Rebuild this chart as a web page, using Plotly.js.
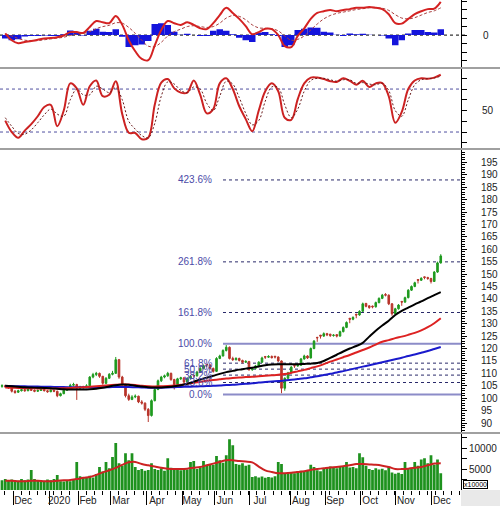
<!DOCTYPE html>
<html><head><meta charset="utf-8">
<script src="https://cdn.plot.ly/plotly-3.0.1.min.js"></script>
<style>html,body{margin:0;padding:0;background:#fff}#chart{width:500px;height:506px}</style>
</head><body><div id="chart"></div>
<script>
// ---- price candles (each bar = 2 sessions) ----
const opens = [104.8,105.0,104.6,104.2,102.8,102.4,103.0,103.4,103.0,103.6,
 103.2,102.8,103.1,103.5,103.0,102.6,103.2,102.8,101.0,101.8,
 103.2,104.3,105.2,105.5,104.0,104.6,104.3,105.0,108.5,109.5,
 110.0,108.8,106.0,108.0,109.6,110.0,115.5,108.5,105.5,101.0,
 99.5,100.5,100.8,98.5,98.0,95.5,93.0,99.0,103.5,107.0,
 108.5,109.0,110.0,107.5,105.5,107.8,108.2,106.5,108.0,109.2,
 109.0,110.5,112.0,113.6,113.4,112.0,110.8,116.0,117.0,119.2,
 120.5,116.0,115.5,116.0,115.2,114.5,114.8,111.5,112.0,113.0,
 114.5,116.8,116.5,116.8,116.9,116.6,115.0,104.0,108.0,110.2,
 113.2,113.0,113.3,115.8,117.0,116.2,120.0,124.5,125.4,125.0,
 126.0,125.8,125.2,125.6,125.0,126.8,128.5,132.2,131.8,133.8,
 133.5,135.0,138.2,137.2,137.1,136.8,138.5,140.2,141.8,141.5,
 138.0,134.0,136.0,139.0,138.7,140.5,143.5,145.0,147.8,147.5,
 148.9,148.6,148.2,147.0,150.8,154.5];
const highs = [105.6,105.4,104.9,104.4,103.3,103.4,103.8,103.7,104.0,103.9,
 103.5,103.5,103.9,103.7,103.3,103.6,103.4,103.0,102.2,103.6,
 104.7,105.8,106.2,105.8,105.0,105.0,105.6,108.9,110.2,110.6,
 110.3,109.0,108.5,110.1,111.0,116.6,115.8,109.0,105.8,101.8,
 101.2,101.5,101.0,99.2,98.3,96.0,99.5,104.0,107.5,109.0,
 109.5,110.6,110.3,107.8,108.2,108.6,108.4,108.4,109.3,109.5,
 111.0,112.5,113.5,113.8,113.6,112.3,116.5,117.5,119.7,121.4,
 120.8,116.7,116.5,116.3,115.5,115.3,115.0,112.4,113.4,114.9,
 116.7,117.0,117.3,117.2,117.0,116.8,115.2,108.4,110.6,112.9,
 113.5,113.8,116.2,117.5,117.3,120.4,123.4,124.7,125.4,126.5,
 126.3,125.9,125.8,125.6,127.2,128.9,130.9,132.2,133.0,134.0,
 135.4,138.5,138.3,137.4,137.3,138.9,140.6,142.0,142.3,141.8,
 138.3,136.4,137.9,139.1,140.9,143.9,145.4,146.9,147.9,148.7,
 149.0,148.9,148.5,151.2,155.0,158.0];
const lows = [104.2,104.3,103.8,102.3,101.8,102.1,102.7,102.6,102.8,102.9,
 102.4,102.5,102.9,102.7,102.2,102.4,102.4,100.4,100.7,101.6,
 103.0,104.0,104.8,99.3,103.6,103.8,104.0,104.8,108.0,108.9,
 108.2,105.4,105.6,107.7,109.2,109.8,107.8,105.0,100.3,98.9,
 99.2,100.0,98.0,97.4,94.8,90.4,92.6,98.7,103.2,106.5,
 108.0,108.6,107.0,103.5,105.2,107.3,106.0,106.2,107.6,108.3,
 108.7,110.2,111.6,112.5,111.5,110.3,110.6,115.7,116.8,118.8,
 115.6,115.0,115.2,114.8,114.0,114.2,111.0,111.0,111.7,112.8,
 114.2,115.8,116.2,116.0,116.0,114.6,102.0,103.0,107.7,110.0,
 112.2,112.6,113.0,115.5,115.8,116.0,119.7,122.7,124.0,124.7,
 125.0,124.7,124.8,124.5,124.8,126.5,128.2,130.2,131.4,132.2,
 133.2,134.8,136.6,136.0,136.2,136.5,138.2,139.9,141.0,137.5,
 133.2,133.6,135.7,137.2,138.4,140.2,143.2,144.7,146.2,147.2,
 147.9,147.7,146.2,146.8,150.5,154.2];
const closes = [105.0,104.6,104.2,102.8,102.3,103.0,103.4,103.0,103.6,103.2,
 102.8,103.1,103.5,103.0,102.6,103.2,102.8,101.0,101.8,103.2,
 104.3,105.2,105.5,104.0,104.6,104.3,105.0,108.5,109.5,110.0,
 108.8,106.0,108.0,109.6,110.0,115.5,108.5,105.5,101.0,99.5,
 100.5,100.8,98.5,98.0,95.5,93.0,99.0,103.5,107.0,108.5,
 109.0,110.0,107.5,105.5,107.8,108.2,106.5,108.0,108.8,109.0,
 110.5,112.0,113.0,113.4,112.0,110.8,116.0,117.0,119.2,120.5,
 116.0,115.5,116.0,115.2,114.5,114.8,111.5,112.0,113.0,114.5,
 116.2,116.5,116.8,116.3,116.6,115.0,104.0,108.0,110.2,112.5,
 113.0,113.3,115.8,117.0,116.2,120.0,123.0,124.3,125.0,126.0,
 125.5,125.2,125.4,125.0,126.8,128.5,130.5,131.8,132.5,133.5,
 135.0,138.0,137.0,136.5,136.8,138.5,140.2,141.5,141.5,138.0,
 134.0,136.0,137.5,138.7,140.5,143.5,145.0,146.5,147.5,148.3,
 148.6,148.2,147.0,150.8,154.5,157.3];
const volumes = [2300,2600,2200,2500,2400,2200,2600,2300,2500,4800,
 2600,2300,2400,2200,2500,2300,2600,3600,2100,2000,
 2200,2100,2400,6700,3300,3000,3100,3400,3000,3800,
 5500,4400,6700,5200,7900,11200,6400,5800,8800,7100,
 8800,5500,4800,5000,4600,4800,6400,5000,4800,5200,
 4600,7600,5300,4900,5000,4700,5200,4900,6700,6900,
 5000,5300,6900,5800,6200,6000,8100,7100,6500,8300,
 12100,10700,6200,6000,6400,5800,6000,3100,3300,3000,
 3200,2900,3100,3000,3300,6700,6200,4000,3800,4100,
 4000,4500,4600,4300,4800,6000,5500,4700,4500,5000,
 5400,5600,5500,5200,5700,5500,6700,5400,5500,5200,
 8800,7800,5800,5000,4800,5200,4900,5100,4700,5500,
 4200,3900,4100,3800,6700,5200,5000,6700,5800,7300,
 7600,6400,8300,6000,7300,4000];

// ---- indicators (one point every 2 bars) ----
const macd = [0.2,-0.6,-0.95,-0.8,-0.7,-0.55,-0.4,-0.35,-0.25,-0.05,
 0.35,0.35,0.25,0.95,1.65,1.5,1.4,2.25,1.2,-0.6,
 -1.9,-2.8,-2.95,-1.2,0.6,1.65,1.4,1.2,1.5,1.2,
 0.8,0.7,1.4,2.35,3.2,2.6,1.9,1.05,0.1,0.35,
 0.75,0.7,0.0,-1.3,-1.4,-0.1,0.8,1.9,2.6,2.8,
 2.95,2.8,2.95,3.05,3.2,3.2,3.3,3.2,3.05,2.45,
 1.4,1.35,1.9,2.45,2.8,3.05,3.1,3.9];
const macdSignal = [0.1,-0.1,-0.4,-0.6,-0.65,-0.65,-0.55,-0.45,-0.35,-0.25,
 -0.05,0.1,0.2,0.4,0.75,1.0,1.15,1.45,1.4,0.9,
 0.2,-0.6,-1.3,-1.35,-0.85,-0.1,0.4,0.7,1.0,1.1,
 1.0,0.9,1.0,1.4,2.0,2.3,2.2,1.8,1.2,0.85,
 0.8,0.75,0.5,-0.1,-0.6,-0.5,-0.1,0.6,1.3,1.9,
 2.3,2.55,2.7,2.85,3.0,3.1,3.2,3.2,3.15,2.9,
 2.4,2.0,1.9,2.05,2.35,2.65,2.85,3.2];
const macdHist = [-0.4,-0.6,-0.5,-0.15,-0.1,-0.1,-0.05,-0.1,-0.1,0.1,
 0.55,0.3,-0.05,0.5,0.75,0.4,0.35,0.7,-0.2,-1.4,
 -1.2,-1.1,-0.7,1.3,1.4,1.2,0.4,0.05,0.15,0.0,
 -0.1,-0.1,0.5,0.7,0.5,0.1,-0.3,-0.6,-0.8,0.3,
 0.35,0.1,-0.1,-1.4,-1.2,0.6,0.75,0.9,0.85,0.4,
 0.3,0.05,-0.1,0.2,0.1,0.15,0.05,0.0,-0.05,-0.4,
 -1.2,-0.6,0.2,0.6,0.6,0.35,0.3,0.7];
const stochK = [36,20,12,22,31,42,55,58,28,50,
 88,81,58,84,92,70,72,91,45,19,
 18.6,10,12,58,89,94,81,75,75,92,
 72,46,52,88,95,80,56,38,21,50,
 77,88,77,40,37,66,88,96,96,94,
 91,90,95,91.6,86,91.6,83,88,88.4,70,
 33,48,80,92,95,94.5,96,100];
const stochD = [40,28,18,17,23,33,44,52,45,42,
 65,80,72,72,84,80,75,82,65,35,
 24,15,12,32,70,90,87,78,75,83,
 80,60,50,70,91,87,68,46,30,36,
 63,83,82,58,40,52,77,92,95,95,
 93,91,93,93,88,89,87,86,88,78,
 50,42,65,86,93,94.5,95.5,98];
const maBlack = [105.0,104.8,104.6,104.4,104.3,104.2,104.1,104.0,103.8,103.6,
 103.5,103.5,103.5,103.6,103.8,104.2,104.7,105.2,105.5,105.4,
 105.0,104.7,104.4,104.3,104.3,104.5,104.8,105.2,105.8,106.6,
 107.5,108.2,109.0,109.8,110.5,111.0,111.5,111.9,112.3,112.8,
 113.3,113.6,113.7,113.7,113.7,113.7,113.8,113.9,114.2,115.0,
 116.2,117.5,118.8,120.0,121.0,122.3,124.8,127.2,129.3,131.2,
 133.5,135.2,136.5,137.8,139.0,140.3,141.5,142.7];
const maRed = [104.3,104.2,104.1,104.0,104.0,103.9,103.9,103.9,103.9,104.0,
 104.1,104.3,104.4,104.6,104.8,105.0,105.2,105.4,105.5,105.5,
 105.3,105.0,104.8,104.7,104.8,104.9,105.1,105.4,105.8,106.2,
 106.6,107.0,107.3,107.6,107.9,108.1,108.3,108.5,108.6,108.8,
 109.0,109.2,109.4,109.7,110.2,110.8,111.4,112.1,112.8,113.7,
 114.7,115.6,116.5,117.4,118.4,119.4,120.4,121.6,122.7,123.4,
 124.2,124.8,125.5,126.3,127.3,128.6,130.2,132.2];
const maBlue = [104.9,104.9,104.8,104.8,104.7,104.7,104.6,104.6,104.5,104.5,
 104.4,104.4,104.4,104.4,104.4,104.4,104.4,104.5,104.5,104.5,
 104.4,104.3,104.2,104.2,104.2,104.3,104.4,104.5,104.6,104.7,
 104.8,104.9,105.0,105.1,105.3,105.4,105.6,105.8,106.0,106.3,
 106.5,106.7,106.9,107.1,107.4,107.7,108.0,108.4,108.8,109.3,
 109.8,110.3,110.9,111.5,112.1,112.7,113.3,113.9,114.5,115.1,
 115.7,116.3,117.0,117.6,118.3,119.0,119.8,120.6];
const volMA = [2200,2200,2100,2100,2200,2200,2100,2100,2200,2300,
 2400,2600,2900,3100,3600,4200,4700,5300,6000,6600,
 6700,6200,5900,5600,5300,5100,5000,5000,5100,5300,
 5500,5900,6300,6700,7100,7100,6900,6800,6600,5600,
 4700,4300,4000,4000,4100,4300,4500,4800,5000,5200,
 5400,5500,5700,5900,6200,6200,6100,6000,5800,5500,
 5000,5000,5100,5300,5500,5900,6300,6400];

// ---- axis labels / fibonacci ----
const monthLabels = ['Dec','2020','Feb','Mar','Apr','May','Jun','Jul','Aug','Sep','Oct','Nov','Dec'];
const monthTickIdx = [3.4,14.5,23.4,33.5,44.6,55.4,65.5,76.3,88.9,99.4,110.2,121.2,132.3];
const priceTicks = [90,95,100,105,110,115,120,125,130,135,140,145,150,155,160,165,170,175,180,185,190,195];
const volTicks = [2500,5000,7500,10000,12500];
const volTickText = ['','5000','','10000',''];
const macdTicks = [-3,-2,-1,0,1,2,3,4];
const macdTickText = ['','','','0','','','',''];
const stochTicks = [5,20,35,50,65,80,95];
const stochTickText = ['','','','50','','',''];
const fibLow = 101.5, fibHigh = 121.9;
const fibRatios = [0, 0.236, 0.382, 0.5, 0.618, 1, 1.618, 2.618, 4.236];
const fibLabels = ['0.0%','23.6%','38.2%','50.0%','61.8%','100.0%','161.8%','261.8%','423.6%'];

const barIdx = closes.map((_, i) => i);
const indIdx = macd.map((_, k) => 1 + 2 * k);
const X0 = -0.615, X1 = 141.23, FIB_START = 68, FIB_LABEL_X = 65.3;

const traces = [
  {type:'bar', x:indIdx, y:macdHist, yaxis:'y', width:2, marker:{color:'#1414dc', line:{width:0}}, hoverinfo:'skip'},
  {type:'scatter', mode:'lines', x:indIdx, y:macdSignal, yaxis:'y', line:{color:'#a84040', width:1, dash:'3px,2px', shape:'spline'}},
  {type:'scatter', mode:'lines', x:indIdx, y:macd, yaxis:'y', line:{color:'#d42222', width:2, shape:'spline'}},
  {type:'scatter', mode:'lines', x:indIdx, y:stochK, yaxis:'y2', line:{color:'#cc2222', width:2, shape:'spline'}},
  {type:'scatter', mode:'lines', x:indIdx, y:stochD, yaxis:'y2', line:{color:'#6a1a1a', width:1, dash:'2px,2px', shape:'spline'}},
  {type:'candlestick', x:barIdx, open:opens, high:highs, low:lows, close:closes, xaxis:'x', yaxis:'y3',
   increasing:{line:{color:'#1f9a1f', width:1}, fillcolor:'#1f9a1f'},
   decreasing:{line:{color:'#b8342a', width:1}, fillcolor:'#b8342a'}, whiskerwidth:0},
  {type:'scatter', mode:'lines', x:indIdx, y:maBlue, yaxis:'y3', line:{color:'#1a1acc', width:2, shape:'spline'}},
  {type:'scatter', mode:'lines', x:indIdx, y:maRed, yaxis:'y3', line:{color:'#dd2222', width:2, shape:'spline'}},
  {type:'scatter', mode:'lines', x:indIdx, y:maBlack, yaxis:'y3', line:{color:'#000000', width:2, shape:'spline'}},
  {type:'bar', x:barIdx, y:volumes, yaxis:'y4', width:0.85, marker:{color:'#1e921e', line:{width:0}}},
  {type:'scatter', mode:'lines', x:indIdx, y:volMA, yaxis:'y4', line:{color:'#cc2222', width:2, shape:'spline'}}
];

const yCommon = {side:'right', anchor:'x', showline:true, linecolor:'#000', linewidth:1, ticks:'outside',
  ticklen:5, tickcolor:'#000', showgrid:false, zeroline:false, fixedrange:true, tickmode:'array',
  tickfont:{size:10, color:'#222'}};

const shapes = [];
[0.861, 0.696, 0.1163].forEach(y => shapes.push({type:'line', xref:'paper', yref:'paper', x0:0, x1:1.09, y0:y, y1:y, line:{color:'#a0a0a0', width:2}}));
shapes.push({type:'rect', xref:'paper', yref:'paper', x0:1.0, x1:1.09, y0:-0.035, y1:0, fillcolor:'#e9e9e9', line:{width:0}, layer:'below'});
shapes.push({type:'line', xref:'paper', yref:'y', x0:0, x1:1.015, y0:0, y1:0, line:{color:'#000', width:1, dash:'dot'}, layer:'below'});
[20, 80].forEach(v => shapes.push({type:'line', xref:'paper', yref:'y2', x0:0, x1:1, y0:v, y1:v, line:{color:'#5050a0', width:1, dash:'dot'}, layer:'below'}));
const annotations = [];
fibRatios.forEach((r, j) => {
  const lvl = fibLow + r * (fibHigh - fibLow);
  const solid = (r === 0 || r === 1);
  shapes.push({type:'line', xref:'x', yref:'y3', x0:FIB_START, x1:X1, y0:lvl, y1:lvl,
    line: solid ? {color:'#8c8cc8', width:2} : {color:'#2a2a6a', width:1, dash:'3px,3px'}, layer:'below'});
  annotations.push({xref:'x', yref:'y3', x:FIB_LABEL_X, y:lvl, xanchor:'right', yanchor:'middle', showarrow:false,
    text:fibLabels[j], font:{size:10, color:'#4b4ba8'}});
});
annotations.push({xref:'paper', yref:'paper', x:1.004, y:0.011, xanchor:'left', yanchor:'middle', showarrow:false,
  text:'x10000', font:{size:7, color:'#000'}, bordercolor:'#000', borderwidth:1, borderpad:0, bgcolor:'#fff'});

const layout = {
  width:500, height:506, margin:{l:0, r:39, t:0, b:16},
  paper_bgcolor:'#fff', plot_bgcolor:'#fff', showlegend:false, barmode:'overlay',
  font:{family:'"Liberation Sans", Arial, sans-serif', size:10, color:'#222'},
  xaxis:{anchor:'y4', range:[X0, X1], tickmode:'array', tickvals:monthTickIdx, ticktext:monthLabels,
    ticks:'outside', ticklen:14, tickcolor:'#000', ticklabelshift:10, ticklabelstandoff:-13,
    showgrid:false, zeroline:false, showline:false, fixedrange:true, rangeslider:{visible:false},
    minor:{ticks:'outside', ticklen:4, tickmode:'linear', dtick:2.5, tick0:0.9, tickcolor:'#000', showgrid:false},
    tickfont:{size:10, color:'#222'}},
  yaxis: Object.assign({}, yCommon, {domain:[0.863, 1], range:[-3.76, 4.12], tickvals:macdTicks, ticktext:macdTickText, ticklabelstandoff:14}),
  yaxis2: Object.assign({}, yCommon, {domain:[0.698, 0.859], range:[-2.3, 107.9], tickvals:stochTicks, ticktext:stochTickText, ticklabelstandoff:13}),
  yaxis3: Object.assign({}, yCommon, {domain:[0.118, 0.694], range:[86.3, 200], tickvals:priceTicks, ticklabelstandoff:12,
    minor:{ticks:'outside', ticklen:3, tickmode:'linear', dtick:1, tick0:0, tickcolor:'#000'}}),
  yaxis4: Object.assign({}, yCommon, {domain:[0, 0.114], range:[0, 13333], tickvals:volTicks, ticktext:volTickText, ticklabelstandoff:0}),
  shapes: shapes, annotations: annotations
};

Plotly.newPlot('chart', traces, layout, {staticPlot:true, displayModeBar:false});
</script></body></html>
